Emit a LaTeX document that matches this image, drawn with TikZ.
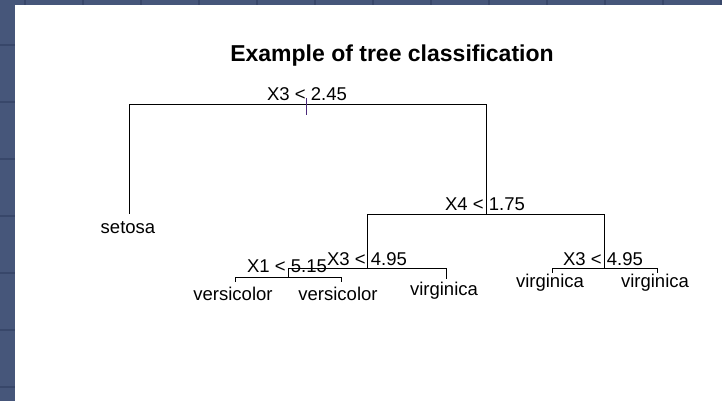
\documentclass[tikz,border=0pt]{standalone}
\usepackage{fontspec}
\setmainfont{Liberation Sans}
\definecolor{stripblue}{HTML}{46567A}
\definecolor{gridblue}{HTML}{38476A}
\definecolor{tickpurple}{HTML}{4B2A7A}
\begin{document}
\begin{tikzpicture}[x=1pt,y=-1pt,
  lbl/.style={font=\fontsize{18.5}{18.5}\selectfont, anchor=base, inner sep=0pt, text=black},
  ttl/.style={font=\fontsize{23}{23}\selectfont\bfseries, anchor=base, inner sep=0pt, text=black},
  edge/.style={line width=1pt, black, line cap=rect},
  gridln/.style={line width=1.5pt, gridblue}]
\useasboundingbox (0,0) rectangle (722,401);
\fill[white] (0,0) rectangle (722,401);
% frame strips
\fill[stripblue] (0,0) rectangle (15,401);
\fill[stripblue] (15,0) rectangle (722,5);
\foreach \yy in {45,102,159,216,273,330,387} \draw[gridln] (0,\yy) -- (15,\yy);
\foreach \xx in {25,83,141,199,257,315,373,431,489,547,605,663,721} \draw[gridln] (\xx,0) -- (\xx,5);
% title
\node[ttl] (title) at (392,62) {Example of tree classification};
% coordinates of the tree
\coordinate (rootL) at (129,105);
\coordinate (rootR) at (486,105);
\coordinate (setosaEnd) at (129,213);
\coordinate (aTop) at (486,214);
\coordinate (aL) at (367,214);
\coordinate (aR) at (604,214);
\coordinate (bTop) at (367,268);
\coordinate (bL) at (288,268);
\coordinate (bR) at (446,268);
\coordinate (bREnd) at (446,278);
\coordinate (cTop) at (288,277);
\coordinate (cL) at (235,277);
\coordinate (cR) at (341,277);
\coordinate (cLEnd) at (235,281);
\coordinate (cREnd) at (341,281);
\coordinate (dTop) at (604,268);
\coordinate (dL) at (552,268);
\coordinate (dR) at (657,268);
\coordinate (dLEnd) at (552,272);
\coordinate (dREnd) at (657,272);
\coordinate (tickT) at (306,98);
\coordinate (tickB) at (306,115);
% edges
\draw[edge] (setosaEnd) -- (rootL) -- (rootR) -- (aTop);
\draw[edge] (bTop) -- (aL) -- (aR) -- (dTop);
\draw[edge] (cTop) -- (bL) -- (bR) -- (bREnd);
\draw[edge] (cLEnd) -- (cL) -- (cR) -- (cREnd);
\draw[edge] (dLEnd) -- (dL) -- (dR) -- (dREnd);
\draw[line width=1pt, tickpurple] (tickT) -- (tickB);
% labels
\node[lbl] (l1) at (307,101) {X3 < 2.45};
\node[lbl] (l2) at (485,210) {X4 < 1.75};
\node[lbl] (l3) at (367,265) {X3 < 4.95};
\node[lbl] (l4) at (287,272) {X1 < 5.15};
\node[lbl] (l5) at (603,265) {X3 < 4.95};
\node[lbl] (setosa) at (128,233) {setosa};
\node[lbl] (vers1) at (233,300) {versicolor};
\node[lbl] (vers2) at (338,300) {versicolor};
\node[lbl] (virg1) at (444,295) {virginica};
\node[lbl] (virg2) at (550,287) {virginica};
\node[lbl] (virg3) at (655,287) {virginica};
\end{tikzpicture}
\end{document}
